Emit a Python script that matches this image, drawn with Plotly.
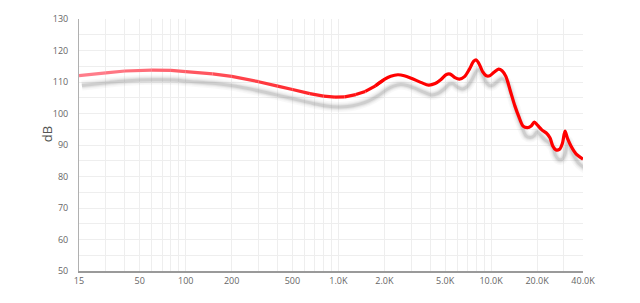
import plotly.graph_objects as go
import math

# ---- data ----
freq_hz = [20, 30, 40, 60, 80, 100, 150, 200, 300, 400, 500, 650, 800, 950, 1100,
           1300, 1500, 1750, 2000, 2200, 2450, 2700, 3000, 3500, 3900, 4300, 4700,
           5100, 5400, 5800, 6200, 6700, 7200, 7700, 8000, 8400, 8800, 9300, 9800,
           10500, 11200, 11800, 12500, 13400, 14300, 15200, 16200, 17300, 18300,
           19200, 20200, 21500, 23000, 24300, 25300, 26500, 28000, 29300, 30500,
           31700, 33500, 36000, 40000]
level_db = [112.0, 112.9, 113.5, 113.8, 113.7, 113.3, 112.6, 111.8, 110.1, 108.7,
            107.6, 106.3, 105.5, 105.2, 105.3, 106.0, 107.0, 108.8, 110.8, 111.8,
            112.3, 112.0, 111.2, 109.8, 109.0, 109.5, 110.8, 112.4, 112.5, 111.4,
            110.9, 111.7, 114.0, 116.6, 117.0, 115.5, 113.3, 112.0, 112.0, 113.2,
            114.1, 113.6, 111.8, 107.0, 102.5, 99.0, 96.0, 95.5, 96.0, 97.3, 96.2,
            94.8, 93.8, 92.3, 89.8, 88.5, 88.6, 90.5, 94.4, 92.0, 89.5, 87.2, 85.5]

x_grid_vals = [20, 30, 40, 50, 60, 70, 80, 90, 100, 200, 300, 400, 500, 600, 700,
               800, 900, 1000, 2000, 3000, 4000, 5000, 6000, 7000, 8000, 9000,
               10000, 20000, 30000, 40000]
x_tick_labels = {20: "15", 50: "50", 100: "100", 200: "200", 500: "500",
                 1000: "1.0K", 2000: "2.0K", 5000: "5.0K", 10000: "10.0K",
                 20000: "20.0K", 40000: "40.0K"}
y_grid_vals = list(range(50, 131, 5))
y_tick_labels = {v: str(v) for v in range(50, 131, 10)}

# ---- styling ----
SHADOW_DX = 1.045   # multiplicative shift on log axis (drop shadow)
SHADOW_DY = 3.1     # dB shift of drop shadow
GRAD_END_HZ = 2000
C_START = (255, 128, 142)
C_END = (255, 0, 0)

fig = go.Figure()

# drop shadow (blurred gray)
sx = [f * SHADOW_DX for f in freq_hz]
sy = [v - SHADOW_DY for v in level_db]
for w, op in [(10, 0.05), (7, 0.08), (5, 0.12), (3, 0.22)]:
    fig.add_trace(go.Scatter(x=sx, y=sy, mode="lines",
                             line=dict(color="#8c8c8c", width=w, shape="spline", smoothing=0.8),
                             opacity=op, hoverinfo="skip", showlegend=False))

# gradient part of main curve
lo, hi = math.log10(freq_hz[0]), math.log10(GRAD_END_HZ)
n_grad = freq_hz.index(GRAD_END_HZ)
for i in range(n_grad):
    t = (math.log10((freq_hz[i] * freq_hz[i + 1]) ** 0.5) - lo) / (hi - lo)
    t = max(0.0, min(1.0, t)) ** 1.2
    c = tuple(round(a + (b - a) * t) for a, b in zip(C_START, C_END))
    fig.add_trace(go.Scatter(x=freq_hz[i:i + 2], y=level_db[i:i + 2], mode="lines",
                             line=dict(color="rgb(%d,%d,%d)" % c, width=3.2),
                             hoverinfo="skip", showlegend=False))

# remaining part (pure red)
fig.add_trace(go.Scatter(x=freq_hz[n_grad - 1:], y=level_db[n_grad - 1:], mode="lines",
                         line=dict(color="rgb(255,0,0)", width=3.2, shape="spline", smoothing=0.8),
                         showlegend=False))

fig.update_layout(
    width=640, height=303,
    margin=dict(l=79, r=57, t=15, b=32),
    paper_bgcolor="white", plot_bgcolor="white",
    font=dict(family="Open Sans, sans-serif", size=9, color="#666"),
    xaxis=dict(type="log", range=[math.log10(20), math.log10(40000)],
               tickmode="array", tickvals=x_grid_vals,
               ticktext=[x_tick_labels.get(v, "") for v in x_grid_vals],
               showgrid=True, gridcolor="#eeeeee", gridwidth=1,
               showline=True, linecolor="#9a9a9a", linewidth=1.5,
               ticks="", zeroline=False, tickangle=0),
    yaxis=dict(range=[50, 130], tickmode="array", tickvals=y_grid_vals,
               ticktext=[y_tick_labels.get(v, "") for v in y_grid_vals],
               showgrid=True, gridcolor="#eeeeee", gridwidth=1,
               showline=True, linecolor="#b0b0b0", linewidth=1,
               ticks="", zeroline=False, ticklabelstandoff=8),
    annotations=[dict(text="dB", xref="paper", yref="paper", x=-0.0635, y=0.543,
                      xanchor="center", yanchor="middle",
                      textangle=-90, showarrow=False,
                      font=dict(size=13, color="#555"))],
)

fig.write_html("out.html")
